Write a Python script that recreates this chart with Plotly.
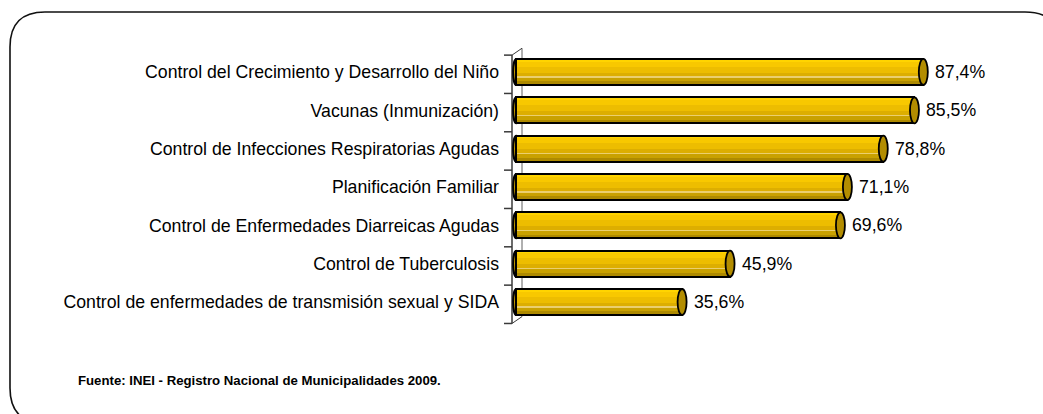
import plotly.graph_objects as go

# ---------------- data ----------------
categories = [
    "Control del Crecimiento y Desarrollo del Niño",
    "Vacunas (Inmunización)",
    "Control de Infecciones Respiratorias Agudas",
    "Planificación Familiar",
    "Control de Enfermedades Diarreicas Agudas",
    "Control de Tuberculosis",
    "Control de enfermedades de transmisión sexual y SIDA",
]
values = [87.4, 85.5, 78.8, 71.1, 69.6, 45.9, 35.6]
value_labels = ["87,4%", "85,5%", "78,8%", "71,1%", "69,6%", "45,9%", "35,6%"]
source_text = "Fuente: INEI - Registro Nacional de Municipalidades 2009."

# ---------------- layout geometry ----------------
W, H = 1043, 414
ML, MR, MT, MB = 500, 61, 44, 84
X_RANGE = [-3.5, 100]
Y_RANGE = [-0.73, 6.73]
PW = W - ML - MR
PH = H - MT - MB
PX_PER_UNIT = PW / (X_RANGE[1] - X_RANGE[0])

n = len(categories)
order = categories[::-1]          # bottom -> top
pos = {c: order.index(c) for c in categories}

HALF = 0.34                       # half bar thickness (category units)
FONT = "Liberation Sans, Arial, sans-serif"
LABEL_SIZE = 17.7

fig = go.Figure()

# cylinder shading: horizontal stripes (fractions measured from top of bar)
stripes = [
    (0.00, 0.10, "#FFD400"),
    (0.10, 0.30, "#F8C800"),
    (0.30, 0.52, "#EDBD00"),
    (0.52, 0.66, "#DDAE00"),
    (0.66, 0.72, "#EBCF6E"),
    (0.72, 0.86, "#C9A100"),
    (0.86, 1.00, "#AE8A00"),
]
for f0, f1, col in stripes:
    fig.add_trace(go.Bar(
        y=categories, x=values, orientation="h",
        width=(f1 - f0) * 2 * HALF,
        offset=HALF - f1 * 2 * HALF,
        marker=dict(color=col, line=dict(width=0)),
        hoverinfo="skip", showlegend=False,
    ))

# outline
fig.add_trace(go.Bar(
    y=categories, x=values, orientation="h",
    width=2 * HALF, offset=-HALF,
    marker=dict(color="rgba(0,0,0,0)", line=dict(color="#000000", width=2)),
    hoverinfo="skip", showlegend=False,
))

shapes = []

def px_to_x(px):
    return X_RANGE[0] + (px - ML) / PX_PER_UNIT

# 3D axis wall (below traces)
front_x = px_to_x(512)
back_x = px_to_x(522)
tick_x = px_to_x(504)
dz = 0.18
wall_col = "#3a3a3a"
shapes.append(dict(type="line", xref="x", yref="y", x0=back_x, x1=back_x,
                   y0=-0.5 + dz - 0.06, y1=n - 0.5 + dz - 0.06,
                   line=dict(color="#606060", width=1), layer="below"))
shapes.append(dict(type="line", xref="x", yref="y", x0=front_x, x1=front_x,
                   y0=-0.5 - 0.06, y1=n - 0.5 - 0.06,
                   line=dict(color=wall_col, width=1.5), layer="below"))
for yb in [-0.5, n - 0.5]:
    shapes.append(dict(type="line", xref="x", yref="y", x0=front_x, x1=back_x,
                       y0=yb - 0.06, y1=yb + dz - 0.06,
                       line=dict(color=wall_col, width=1), layer="below"))
for k in range(n + 1):
    yb = k - 0.5 - 0.06
    shapes.append(dict(type="line", xref="x", yref="y", x0=tick_x, x1=front_x,
                       y0=yb, y1=yb, line=dict(color=wall_col, width=1.5),
                       layer="below"))

# rounded left ends (below bars) and elliptical right caps (above)
cap_w = 4.5 / PX_PER_UNIT
for c, v in zip(categories, values):
    p = pos[c]
    shapes.append(dict(type="circle", xref="x", yref="y",
                       x0=-cap_w * 0.7, x1=cap_w * 0.7, y0=p - HALF, y1=p + HALF,
                       fillcolor="#E6B800", line=dict(color="#000000", width=2),
                       layer="below"))
    shapes.append(dict(type="circle", xref="x", yref="y",
                       x0=v - cap_w, x1=v + cap_w, y0=p - HALF, y1=p + HALF,
                       fillcolor="#B38D00", line=dict(color="#000000", width=1.8),
                       layer="above"))

# outer rounded frame (pixel -> paper)
def pxp(px, py):
    return (px - ML) / PW, (H - MB - py) / PH

L_, T_, R_, B_, r = 10, 12, 1060, 423, 35
pts = {
    "a": pxp(L_, T_ + r), "b": pxp(L_, T_), "c": pxp(L_ + r, T_),
    "d": pxp(R_ - r, T_), "e": pxp(R_, T_), "f": pxp(R_, T_ + r),
    "g": pxp(R_, B_ - r), "h": pxp(R_, B_), "i": pxp(R_ - r, B_),
    "j": pxp(L_ + r, B_), "k": pxp(L_, B_), "l": pxp(L_, B_ - r),
}
fmt = lambda p: f"{p[0]:.5f},{p[1]:.5f}"
path = (f"M {fmt(pts['a'])} Q {fmt(pts['b'])} {fmt(pts['c'])} L {fmt(pts['d'])} "
        f"Q {fmt(pts['e'])} {fmt(pts['f'])} L {fmt(pts['g'])} Q {fmt(pts['h'])} {fmt(pts['i'])} "
        f"L {fmt(pts['j'])} Q {fmt(pts['k'])} {fmt(pts['l'])} Z")
shapes.append(dict(type="path", xref="paper", yref="paper", path=path,
                   line=dict(color="#111111", width=1.6), fillcolor="rgba(0,0,0,0)"))

annotations = []
for c, v, t in zip(categories, values, value_labels):
    annotations.append(dict(x=v, y=c, xref="x", yref="y", text=t, showarrow=False,
                            xanchor="left", yanchor="middle", xshift=10,
                            font=dict(family=FONT, size=LABEL_SIZE, color="#000000")))

sx, sy = pxp(76, 380)
annotations.append(dict(x=sx, y=sy, xref="paper", yref="paper", text=f"<b>{source_text}</b>",
                        showarrow=False, xanchor="left", yanchor="middle",
                        font=dict(family=FONT, size=13.2, color="#000000")))

fig.update_layout(
    width=W, height=H,
    margin=dict(l=ML, r=MR, t=MT, b=MB, pad=0),
    paper_bgcolor="#FFFFFF", plot_bgcolor="#FFFFFF",
    barmode="overlay", bargap=0,
    showlegend=False,
    shapes=shapes, annotations=annotations,
    xaxis=dict(range=X_RANGE, visible=False, fixedrange=True),
    yaxis=dict(range=Y_RANGE, type="category", categoryorder="array",
               categoryarray=order, showgrid=False, zeroline=False,
               showline=False, ticks="", ticklabelstandoff=0,
               tickfont=dict(family=FONT, size=LABEL_SIZE, color="#000000"),
               fixedrange=True),
)

fig.write_html(
    "out.html",
    config={"displayModeBar": False},
    post_script="document.body.style.margin='0';document.body.style.overflow='hidden';",
)
